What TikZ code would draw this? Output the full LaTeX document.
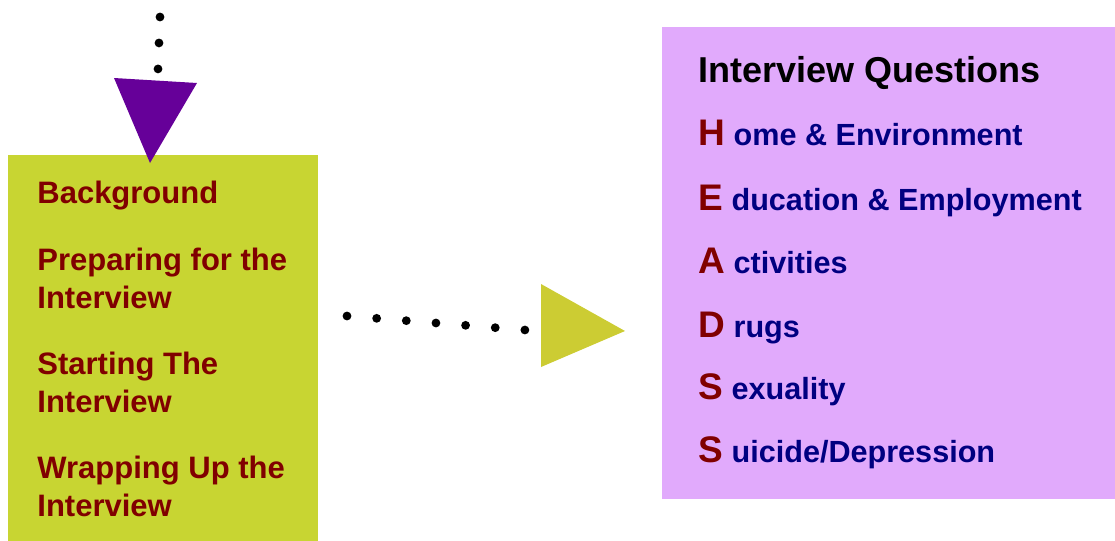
\documentclass[tikz,border=0pt]{standalone}
\usepackage{fontspec}
\setmainfont{Liberation Sans}
\usepackage{xcolor}
\usetikzlibrary{positioning}

\definecolor{topicgreen}{RGB}{200,213,50}
\definecolor{questlilac}{RGB}{225,170,252}
\definecolor{headpurple}{RGB}{102,0,153}
\definecolor{headyellow}{RGB}{204,204,51}
\definecolor{darkred}{RGB}{128,0,0}
\definecolor{darkblue}{RGB}{0,0,128}

\tikzset{
  panel/.style={fill=#1, inner sep=0pt, anchor=north west},
  topic/.style={anchor=base west, inner sep=0pt, align=left, text=darkred,
    font=\bfseries\fontsize{15.5}{18.75}\selectfont},
  quest/.style={anchor=base west, inner sep=0pt, text=darkblue,
    font=\bfseries\fontsize{15.3}{18}\selectfont},
  dots/.style={line width=4.4pt, line cap=round, dash pattern=on 0pt off #1},
}
\newcommand{\initial}[1]{{\color{darkred}\fontsize{18.5}{20}\selectfont #1}}

\begin{document}
\begin{tikzpicture}[x=0.5pt, y=-0.5pt]
    \useasboundingbox (0,0) rectangle (1115,541);

    % the two panels
    \node[panel=topicgreen, minimum width=155pt, minimum height=193pt] (topics) at (8,155) {};
    \node[panel=questlilac, minimum width=226.5pt, minimum height=236pt] (quests) at (662,27) {};

    % left panel
    \node[topic] (bg)   at (37,203) {Background};
    \node[topic] (prep) at (37,308) {Preparing for the\\Interview};
    \node[topic] (start) at (37,412) {Starting The\\Interview};
    \node[topic] (wrap) at (37,516) {Wrapping Up the\\Interview};

    % right panel
    \node[anchor=base west, inner sep=0pt, font=\bfseries\fontsize{18}{20}\selectfont] (title) at (698,82) {Interview Questions};
    \node[quest] (h)  at (698,145) {\initial{H} ome \& Environment};
    \node[quest] (e)  at (698,210) {\initial{E} ducation \& Employment};
    \node[quest] (a)  at (698,273) {\initial{A} ctivities};
    \node[quest] (d)  at (698,337) {\initial{D} rugs};
    \node[quest] (s1) at (698,399) {\initial{S} exuality};
    \node[quest] (s2) at (698,462) {\initial{S} uicide/Depression};

    % arrow into the left panel
    \coordinate (in) at (160,17);
    \coordinate (inend) at (158,69);
    \draw[dots=12.99pt] (in) -- (inend);
    \fill[headpurple] (114,78) -- (197,83) -- (150,163) -- cycle;

    % arrow between the panels
    \coordinate (mid) at (347,316);
    \coordinate (midend) at (525,330);
    \draw[dots=14.87pt] (mid) -- (midend);
    \fill[headyellow] (541,284) -- (625,331) -- (541,367) -- cycle;

\end{tikzpicture}
\end{document}
